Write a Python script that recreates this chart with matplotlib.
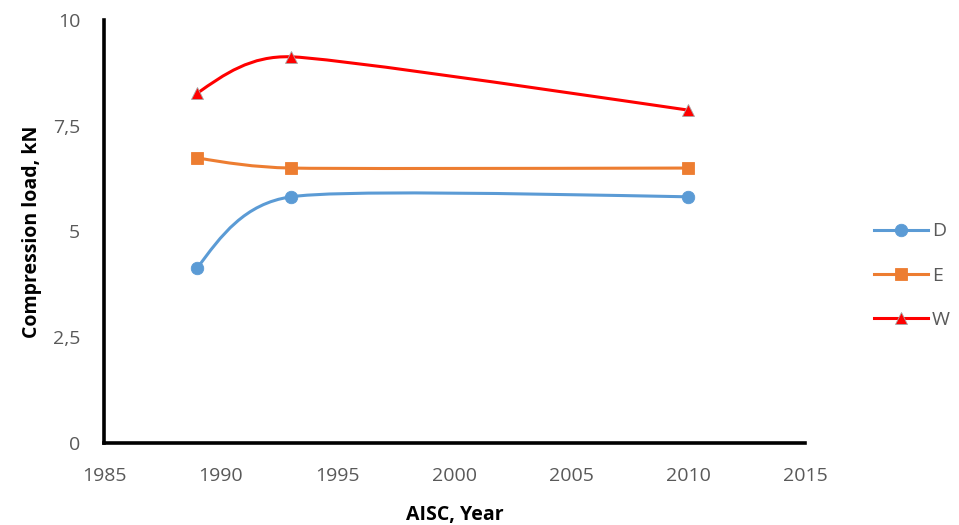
import numpy as np
import matplotlib
matplotlib.use("Agg")
import matplotlib.pyplot as plt
from matplotlib.path import Path
from matplotlib.patches import PathPatch
from matplotlib.lines import Line2D

plt.rcParams["font.family"] = ["Open Sans", "DejaVu Sans"]

years = [1989, 1993, 2010]
series_names = ["D", "E", "W"]
d_load = [4.14, 5.82, 5.82]
e_load = [6.74, 6.50, 6.50]
w_load = [8.27, 9.13, 7.87]
y_tick_vals = [0, 2.5, 5, 7.5, 10]
y_tick_labels = ["0", "2,5", "5", "7,5", "10"]
x_tick_vals = [1985, 1990, 1995, 2000, 2005, 2010, 2015]

colors = ["#5B9BD5", "#ED7D31", "#FF0000"]
markers = ["o", "s", "^"]


def smooth_path(ax, xs, ys, k=0.4):
    # Excel-like smoothed line: Catmull-Rom tangents in screen space,
    # clamped by segment length, drawn as cubic Beziers in data coords
    pts = ax.transData.transform(np.column_stack([xs, ys]))
    n = len(pts)
    tang = []
    for i in range(n):
        if i == 0 or i == n - 1:
            tang.append(None)
            continue
        t = (pts[i + 1] - pts[i - 1]) / 6
        lim = k * min(np.hypot(*(pts[i] - pts[i - 1])), np.hypot(*(pts[i + 1] - pts[i])))
        ln = np.hypot(*t)
        if ln > lim:
            t = t * lim / ln
        tang.append(t)
    verts = [pts[0]]
    codes = [Path.MOVETO]
    for i in range(n - 1):
        p1, p2 = pts[i], pts[i + 1]
        c1 = p1 + tang[i] if tang[i] is not None else None
        c2 = p2 - tang[i + 1] if tang[i + 1] is not None else None
        if c1 is None and c2 is None:
            c1 = p1 + (p2 - p1) / 3
            c2 = p2 - (p2 - p1) / 3
        elif c1 is None:
            c1 = p1 + (c2 - p1) / 2
        elif c2 is None:
            c2 = p2 + (c1 - p2) / 2
        verts += [c1, c2, p2]
        codes += [Path.CURVE4] * 3
    data_verts = ax.transData.inverted().transform(np.array(verts))
    return Path(data_verts, codes)


fig = plt.figure(figsize=(9.59, 5.25), dpi=100)
ax = fig.add_axes([0.1084, 0.1562, 0.7310, 0.8057])
ax.set_xlim(1985, 2015)
ax.set_ylim(0, 10)

handles = []
for name, vals, c, m in zip(series_names, [d_load, e_load, w_load], colors, markers):
    ax.add_patch(PathPatch(smooth_path(ax, years, vals), facecolor="none",
                           edgecolor=c, linewidth=2.2, zorder=2))
    mec = "#A6A6A6" if m == "^" else c
    ax.plot(years, vals, linestyle="none", marker=m, markersize=9,
            color=c, markeredgecolor=mec, markeredgewidth=0.6, zorder=3)
    handles.append(Line2D([], [], color=c, linewidth=2.2, marker=m,
                          markersize=9, markeredgecolor=mec,
                          markeredgewidth=0.6, label=name))

ax.set_xticks(x_tick_vals)
ax.set_yticks(y_tick_vals)
ax.set_yticklabels(y_tick_labels)
ax.tick_params(length=0, labelsize=14, colors="#595959")
ax.tick_params(axis="y", pad=17)
ax.tick_params(axis="x", pad=17)

for s in ["top", "right"]:
    ax.spines[s].set_visible(False)
for s in ["left", "bottom"]:
    ax.spines[s].set_linewidth(2.6)
    ax.spines[s].set_color("black")

ax.set_xlabel("AISC, Year", fontsize=14, fontweight="bold", labelpad=15)
ax.set_ylabel("Compression load, kN", fontsize=14, fontweight="bold", labelpad=8)

fig.legend(handles=handles, loc="center left", bbox_to_anchor=(0.911, 0.475),
           frameon=False, fontsize=14, labelcolor="#595959",
           borderpad=0, borderaxespad=0,
           handlelength=2.8, handletextpad=0.2, labelspacing=1.35)

fig.savefig("out.png", dpi=100)
